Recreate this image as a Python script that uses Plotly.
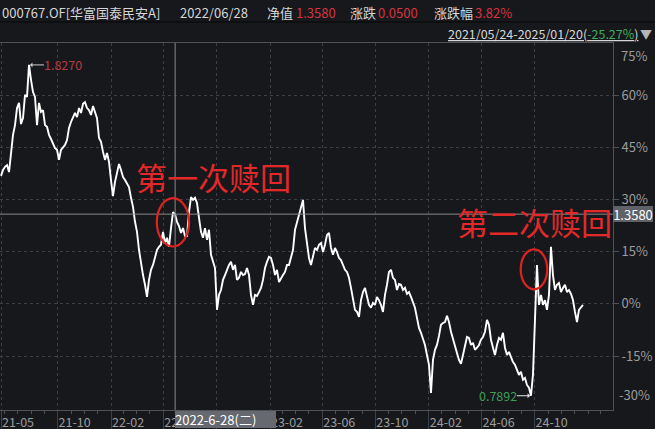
import numpy as np
import pandas as pd
import plotly.graph_objects as go

# ---------------- data ----------------
start_date = "2021-05-24"
end_date = "2025-01-20"

# period change (%) relative to the axis base, in time order
seg_2021 = [36.8, 38.5, 39.4, 39.9, 37.9, 44.3, 48.6, 51.4, 56.3, 57.8,
            51.7, 53.4, 60.1, 59.5, 68.7, 64.4, 60.9, 59.5, 51.4, 57.8,
            55.2, 55.7, 51.4, 50.9, 48.6, 47.4, 46.3, 44.8, 44.3, 41.4,
            44.3, 45.1, 45.7, 47.1, 50.6, 52.3, 53.4, 54.9, 53.7, 56.3,
            54.9, 57.5, 58.0, 56.3, 55.7, 54.3, 56.9, 55.2, 53.4, 47.7]
seg_2022a = [46.6, 43.7, 41.4, 43.4, 40.8, 35.6, 31.0, 35.1, 37.9, 40.2,
             38.5, 36.5, 35.6, 34.5, 33.6, 30.5, 27.9, 23.6, 20.7, 15.5,
             11.2, 8.3, 5.5, 2.0, 6.9, 9.8, 11.2, 13.8, 15.5, 16.4,
             17.0, 20.7, 17.5, 19.0, 16.4, 21.8, 26.4, 25.8, 23.6, 22.4,
             20.4, 21.8, 19.5, 19.5, 26.4, 30.7, 29.9]
seg_2022b = [30.5, 29.0, 24.7, 20.7, 19.0, 21.8, 18.4, 21.3, 14.1, 12.1,
             10.3, -1.7, 2.6, 4.0, 6.9, 8.3, 9.8, 11.2, 12.1, 9.8,
             11.2, 6.9, 7.5, 9.2, 8.3, 8.6, 10.3, 8.3, 2.6, -0.3,
             2.6, 2.3, 3.4, 4.6, 6.9, 10.3, 12.1, 13.5, 13.2, 11.2,
             8.3, 9.8, 6.3, 7.5, 8.3, 9.2, 11.2, 11.2]
seg_2023 = [13.2, 15.5, 21.3, 23.6, 25.6, 28.4, 29.9, 21.8, 17.0, 13.2,
            11.2, 14.1, 16.1, 15.5, 17.0, 17.5, 14.9, 17.0, 19.8, 20.4,
            16.1, 14.1, 16.1, 14.9, 13.2, 12.6, 11.2, 9.8, 9.2, 7.5,
            4.6, 1.1, -1.7, -2.3, -3.7, 1.1, 3.4, 4.6, 1.7, -0.3,
            -1.1, 0.3, -0.3, 2.0, 1.1, -0.3, -2.3]
seg_2024a = [2.6, 5.5, 9.2, 9.8, 7.5, 6.9, 4.0, 5.7, 5.5, 4.0,
             4.6, 2.9, 3.4, 2.0, 0.6, -1.1, -4.0, -6.9, -8.3, -9.8,
             -11.8, -14.7, -17.5, -25.6, -16.1, -13.2, -11.8, -9.2, -6.0, -5.5,
             -5.2, -3.4, -5.2, -8.0, -9.8, -11.8, -14.1, -16.1, -17.2, -14.7,
             -11.8, -9.5, -9.8, -11.8, -11.2, -13.2, -12.6, -11.8]
seg_2024b = [-10.3, -9.5, -8.0, -4.6, -6.0, -10.3, -12.6, -14.7, -11.8, -9.8,
             -10.3, -8.3, -12.6, -14.7, -13.8, -15.5, -16.7, -17.5, -19.0, -20.4,
             -19.5, -21.8, -21.3, -23.3, -24.1, -26.4, -20.4, -4.6, 11.2, -0.3,
             2.6, -0.3, 1.1, -1.7, 2.6, 16.4, 8.3, 4.0, 5.5, 6.0,
             3.4, 4.6, 5.5, 3.4, 4.0, 2.9, 1.1, -2.3, -5.2, -1.7,
             -1.1, -0.3]

x_tick_dates = ["2021-05-24", "2021-10-01", "2022-02-01", "2022-06-01", "2022-10-01",
                "2023-02-01", "2023-06-01", "2023-10-01", "2024-02-01", "2024-06-01",
                "2024-10-01"]
x_tick_text = ["21-05", "21-10", "22-02", "22-06", "22-10", "23-02", "23-06",
               "23-10", "24-02", "24-06", "24-10"]
y_tick_vals = [-15, 0, 15, 30, 45, 60]
y_edge_vals = [75, -30]

fund_name = "000767.OF[华富国泰民安A]"
cross_date = "2022-06-28"
cross_date_label = "2022-6-28(二)"
cross_nav = "1.3580"
cross_pct = 25.8
cross_chg = "0.0500"
cross_chg_pct = "3.82%"
peak_nav = "1.8270"
low_nav = "0.7892"
period_text = "2021/05/24-2025/01/20"
period_pct = "-25.27%"
note_1 = "第一次赎回"
note_2 = "第二次赎回"

# ---------------- figure ----------------
pct = np.array(seg_2021 + seg_2022a + seg_2022b + seg_2023 + seg_2024a + seg_2024b)
dates = pd.date_range(start_date, end_date, periods=len(pct))

BG = "#17181c"
GRID = "#3d3f45"
AXIS = "#4f5157"
TXT = "#d6d6d6"
TICK = "#9c9c9c"
RED = "#d8343f"
FONT = "Noto Sans CJK SC, Noto Sans, sans-serif"

fig = go.Figure()
fig.add_trace(go.Scatter(x=dates, y=pct, mode="lines",
                         line=dict(color="#ffffff", width=1.9), hoverinfo="skip"))

fig.update_layout(
    width=655, height=429,
    margin=dict(l=0, r=42, t=43, b=19, pad=0),
    paper_bgcolor=BG, plot_bgcolor=BG, showlegend=False,
    font=dict(family=FONT, size=12, color=TICK),
)
fig.update_xaxes(
    type="date", range=["2021-05-21 16:00", "2025-03-30"],
    tickvals=x_tick_dates, ticktext=x_tick_text,
    ticks="outside", ticklen=19, tickcolor=GRID, tickwidth=1,
    ticklabelstandoff=-18, ticklabelshift=17,
    tickfont=dict(size=12.5, color=TICK, family=FONT),
    showgrid=True, gridcolor=GRID, griddash="dot", gridwidth=1,
    showline=True, linecolor=AXIS, linewidth=1, mirror=True,
    minor=dict(ticks="outside", ticklen=3, dtick="M1", tickcolor=AXIS, showgrid=False),
    zeroline=False, automargin=False,
)
fig.update_yaxes(
    side="right", range=[-30.5, 75],
    tickvals=y_tick_vals, ticktext=[f"{v}%" for v in y_tick_vals],
    ticks="outside", ticklen=5, tickcolor=AXIS,
    tickfont=dict(size=13, color=TICK, family=FONT),
    showgrid=True, gridcolor=GRID, griddash="dot", gridwidth=1,
    showline=True, linecolor=AXIS, linewidth=1, zeroline=False, automargin=False,
)

# edge labels of the right axis, kept inside the frame
fig.add_annotation(x=1, xref="paper", y=y_edge_vals[0], yref="y", xanchor="left", yanchor="top",
                   xshift=6, yshift=-1, text=f"{y_edge_vals[0]}%", showarrow=False,
                   font=dict(size=13, color=TICK, family=FONT))
fig.add_annotation(x=1, xref="paper", y=y_edge_vals[1], yref="y", xanchor="left", yanchor="bottom",
                   xshift=4, yshift=2, text=f"{y_edge_vals[1]}%", showarrow=False,
                   font=dict(size=13, color=TICK, family=FONT))

# crosshair
fig.add_shape(type="line", xref="paper", x0=0, x1=1, yref="y", y0=cross_pct, y1=cross_pct,
              line=dict(color="#8a8a8a", width=1))
fig.add_shape(type="line", xref="x", x0=cross_date, x1=cross_date, yref="paper", y0=0, y1=1,
              line=dict(color="#8a8a8a", width=1))
fig.add_annotation(x=1, xref="paper", y=cross_pct, yref="y", xanchor="left", yanchor="middle",
                   text=cross_nav, showarrow=False, bgcolor="#5e6167", width=40, height=16,
                   borderpad=0, borderwidth=0, font=dict(size=13, color="#ffffff", family=FONT))
fig.add_annotation(x=cross_date, xref="x", y=0, yref="paper", xanchor="left", yanchor="top",
                   yshift=-1, text=cross_date_label, showarrow=False, bgcolor="#66696f",
                   width=101, height=17, align="left", borderpad=0, borderwidth=0,
                   font=dict(size=13, color="#ffffff", family=FONT))

# peak / trough markers
i_max = int(np.argmax(pct))
i_min = int(np.argmin(pct))
fig.add_annotation(x=dates[i_max], y=pct[i_max], text=peak_nav, showarrow=True,
                   ax=15, ay=0, xanchor="left", yanchor="middle", arrowcolor="#cfcfcf",
                   arrowwidth=1, arrowhead=1, arrowsize=0.8, standoff=1,
                   borderpad=0, borderwidth=0, font=dict(size=12.5, color="#b83a42", family=FONT))
fig.add_annotation(x=dates[i_min], y=pct[i_min], text=low_nav, showarrow=True,
                   ax=-14, ay=0, xanchor="right", yanchor="middle", arrowcolor="#e6e6e6",
                   arrowwidth=1, arrowhead=1, arrowsize=0.8, standoff=1,
                   borderpad=0, borderwidth=0, font=dict(size=12.5, color="#3f9e56", family=FONT))

# red notes
fig.add_annotation(x="2022-09-25", y=36.6, text=note_1, showarrow=False,
                   font=dict(size=31, color="#e3282a", family=FONT))
fig.add_annotation(x="2024-09-30", y=23.6, text=note_2, showarrow=False,
                   font=dict(size=31, color="#e3282a", family=FONT))
fig.add_shape(type="circle", xref="x", yref="y", x0="2022-05-17", x1="2022-07-30",
              y0=16.5, y1=30.4, line=dict(color="#dc2420", width=2.2))
fig.add_shape(type="circle", xref="x", yref="y", x0="2024-08-30", x1="2024-10-30",
              y0=4.2, y1=15.7, line=dict(color="#dc2420", width=2.2))

# header
def px(xp):
    return xp / 613.0

def py(yp):
    return (410.0 - yp) / 367.0

row1 = [(2, fund_name, TXT), (180, cross_date.replace("-", "/"), TXT), (267, "净值", TXT),
        (296, cross_nav, RED), (350, "涨跌", TXT), (378, cross_chg, RED),
        (434, "涨跌幅", TXT), (475, cross_chg_pct, RED)]
for xl, t, c in row1:
    fig.add_annotation(x=px(xl), y=py(13), xref="paper", yref="paper", xanchor="left",
                       yanchor="middle", text=t, showarrow=False, borderpad=0, borderwidth=0,
                       font=dict(size=13, color=c, family=FONT))
fig.add_annotation(x=px(638), y=py(33), xref="paper", yref="paper", xanchor="right",
                   yanchor="middle", showarrow=False, borderpad=0, borderwidth=0,
                   text=f"<u>{period_text}(<span style='color:#3fae5c'>{period_pct}</span>)</u>",
                   font=dict(size=12.5, color=TXT, family=FONT))
fig.add_annotation(x=px(646), y=py(33), xref="paper", yref="paper", xanchor="center",
                   yanchor="middle", showarrow=False, text="▼",
                   font=dict(size=12, color="#b5b5b5", family=FONT))
fig.add_shape(type="line", xref="paper", yref="paper", x0=0, x1=655 / 613.0,
              y0=py(22), y1=py(22), line=dict(color="#0c0c0e", width=1.5))

fig.write_html("out.html",
               config={"displayModeBar": False, "staticPlot": True},
               post_script="document.body.style.margin='0px';"
                           "document.body.style.background='" + BG + "';")
